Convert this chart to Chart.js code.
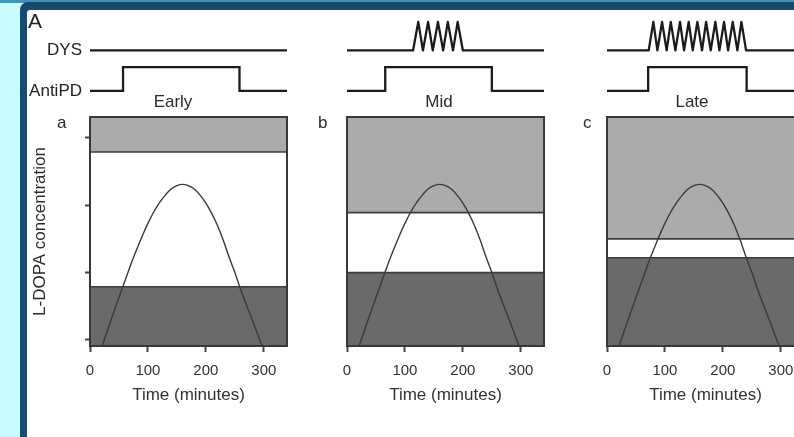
<!DOCTYPE html>
<html>
<head>
<meta charset="utf-8">
<script src="https://cdn.jsdelivr.net/npm/chart.js@4"></script>
<style>
  html, body { margin: 0; padding: 0; }
  body { width: 794px; height: 437px; overflow: hidden; position: relative; background: #c9fbfe;
         font-family: 'Liberation Sans', Arial, Helvetica, sans-serif; color: #2b2b2b; }
  #strip { position: absolute; left: 0; top: 0; width: 794px; height: 3px; background: #3e95b9; }
  #frame { position: absolute; left: 20px; top: 2px; width: 800px; height: 460px; background: #174a6e; border-top-left-radius: 8px; }
  #paper { position: absolute; left: 27px; top: 10px; width: 800px; height: 460px; background: #fff; border-top-left-radius: 3px; }
  canvas { position: absolute; }
  .lbl { position: absolute; font-size: 17px; line-height: 17px; white-space: nowrap; }
  .ttl { position: absolute; font-size: 17px; line-height: 17px; width: 100px; text-align: center; }
  #bigA { position: absolute; left: 28px; top: 10px; font-size: 21px; line-height: 21px; color: #222; }
</style>
</head>
<body>
<div id="strip"></div>
<div id="frame"></div>
<div id="paper"></div>
<canvas id="pa" width="263" height="398" style="left:27px;top:8px"></canvas>
<canvas id="pb" width="247" height="398" style="left:300px;top:8px"></canvas>
<canvas id="pc" width="247" height="398" style="left:560px;top:8px"></canvas>
<div id="bigA">A</div>
<div class="ttl" style="left:123px;top:93px">Early</div>
<div class="ttl" style="left:389px;top:93px">Mid</div>
<div class="ttl" style="left:642px;top:93px">Late</div>
<div class="lbl" style="left:57px;top:114px">a</div>
<div class="lbl" style="left:318px;top:114px">b</div>
<div class="lbl" style="left:583px;top:114px">c</div>
<script>
// axis ticks
const timeTicks = [0, 100, 200, 300];
const concTicks = [0, 1, 2, 3];
const traceLabels = ['AntiPD', 'DYS'];

// L-DOPA concentration after one dose (same curve in every stage)
const doseTime = [21, 30, 40, 50, 60, 70, 80, 90, 100, 110, 120, 130, 140, 150, 160,
                  170, 180, 190, 200, 210, 220, 230, 240, 250, 260, 270, 280, 290, 297];
const doseConc = [-0.09, 0.14, 0.39, 0.63, 0.87, 1.11, 1.33, 1.54, 1.73, 1.90, 2.04, 2.15, 2.24, 2.29, 2.31,
                  2.29, 2.24, 2.15, 2.03, 1.88, 1.70, 1.48, 1.23, 1.00, 0.75, 0.52, 0.30, 0.07, -0.09];

// therapeutic window per stage: Early, Mid, Late
const lowerLimit = [0.79, 1.00, 1.22];
const upperLimit = [2.79, 1.89, 1.50];

// AntiPD effect: off/on levels and switch times per stage
const antiLevels = [0, 1];
const antiOn = [57, 66, 71];
const antiOff = [258, 250, 241];

// DYS trace: baseline / peak level and zigzag times per stage
const dysLevels = [1.7, 2.9];
const dysEarlyT = [];
const dysMidT = [114, 123, 131, 140, 148, 157, 166, 174, 183, 191, 200];
const dysLateT = [72, 80, 87, 95, 103, 110, 118, 126, 133, 141, 148, 156,
                  164, 171, 179, 187, 194, 202, 209, 217, 225, 232, 240];
const dysTimes = [dysEarlyT, dysMidT, dysLateT];

const xMin = 0, xMax = 340;
const yMin = -0.09, yMax = 3.31;
const ytMin = -1.1, ytMax = 3.4;

Chart.defaults.font.family = "'Liberation Sans', Arial, Helvetica, sans-serif";
Chart.defaults.color = '#2b2b2b';

const boxFrame = {
  id: 'boxFrame',
  afterDatasetsDraw(chart) {
    const { ctx, scales: { x, y } } = chart;
    ctx.save();
    ctx.strokeStyle = '#383838';
    ctx.lineWidth = 2;
    ctx.strokeRect(x.left, y.top, x.right - x.left, y.bottom - y.top);
    ctx.restore();
  }
};

function pts(xs, ys) { return xs.map((t, i) => ({ x: t, y: ys[i] })); }

function antiData(k) {
  const lo = antiLevels[0], hi = antiLevels[1];
  return pts([xMin, antiOn[k], antiOn[k], antiOff[k], antiOff[k], xMax], [lo, lo, hi, hi, lo, lo]);
}

function dysData(k) {
  const base = dysLevels[0], peak = dysLevels[1];
  const t = dysTimes[k];
  const ys = t.map((_, i) => (i % 2 ? peak : base));
  return pts([xMin, ...t, xMax], [base, ...ys, base]);
}

function renderPanel(canvasId, k, axisW) {
  const first = k === 0;
  const el = document.getElementById(canvasId);
  new Chart(el.getContext('2d'), {
    type: 'line',
    data: {
      datasets: [
        { data: pts(doseTime, doseConc), borderColor: '#3a3a3a', borderWidth: 1.4,
          cubicInterpolationMode: 'monotone', pointRadius: 0, fill: false, order: 0 },
        { data: pts([xMin, xMax], [lowerLimit[k], lowerLimit[k]]), borderColor: '#3c3c3c', borderWidth: 1.6,
          backgroundColor: '#6a6a6a', fill: { value: yMin }, pointRadius: 0, order: 2 },
        { data: pts([xMin, xMax], [upperLimit[k], upperLimit[k]]), borderColor: '#3c3c3c', borderWidth: 1.6,
          backgroundColor: '#ababab', fill: { value: yMax }, pointRadius: 0, order: 2 },
        { data: antiData(k), yAxisID: 'yt', borderColor: '#1b1b1b', borderWidth: 2.3,
          pointRadius: 0, fill: false, order: 0 },
        { data: dysData(k), yAxisID: 'yt', borderColor: '#1b1b1b', borderWidth: 2.3,
          borderJoinStyle: 'round', pointRadius: 0, fill: false, order: 0 }
      ]
    },
    options: {
      responsive: false,
      animation: false,
      events: [],
      layout: { padding: { top: 2, right: 3, left: 0, bottom: 0 } },
      plugins: { legend: { display: false }, tooltip: { enabled: false } },
      scales: {
        x: {
          type: 'linear', min: xMin, max: xMax,
          afterBuildTicks: s => { s.ticks = timeTicks.map(v => ({ value: v })); },
          ticks: { color: '#333', font: { size: 15 }, padding: 10, maxRotation: 0 },
          grid: { drawOnChartArea: false, tickLength: 6, tickWidth: 2, tickColor: '#444' },
          border: { display: false },
          title: { display: true, text: 'Time (minutes)', color: '#333', font: { size: 17 }, padding: { top: 0, bottom: 0 } },
          afterFit: s => { s.height = 60; s.paddingLeft = 0; s.paddingRight = 0; }
        },
        y: {
          type: 'linear', position: 'left', stack: 'panel', stackWeight: 229, min: yMin, max: yMax,
          afterBuildTicks: s => { s.ticks = concTicks.map(v => ({ value: v })); },
          ticks: { display: false },
          grid: { display: first, drawOnChartArea: false, tickLength: 5, tickWidth: 2, tickColor: '#444' },
          border: { display: false },
          title: { display: first, text: 'L-DOPA concentration', color: '#2b2b2b', font: { size: 17 }, padding: { top: 3, bottom: 0 } },
          afterFit: s => { s.width = axisW; s.paddingTop = 0; s.paddingBottom = 0; }
        },
        yt: {
          type: 'linear', position: 'left', stack: 'panel', stackWeight: 107, min: ytMin, max: ytMax,
          afterBuildTicks: s => { s.ticks = first ? [antiLevels[0], dysLevels[0]].map(v => ({ value: v })) : []; },
          ticks: { display: first, color: '#222', font: { size: 17 }, padding: 0,
                   callback: (v, i) => traceLabels[i] },
          grid: { display: false },
          border: { display: false },
          afterFit: s => { s.width = axisW; s.paddingTop = 0; s.paddingBottom = 0; }
        }
      }
    },
    plugins: [boxFrame]
  });
}

renderPanel('pa', 0, 63);
renderPanel('pb', 1, 47);
renderPanel('pc', 2, 47);
</script>
</body>
</html>
